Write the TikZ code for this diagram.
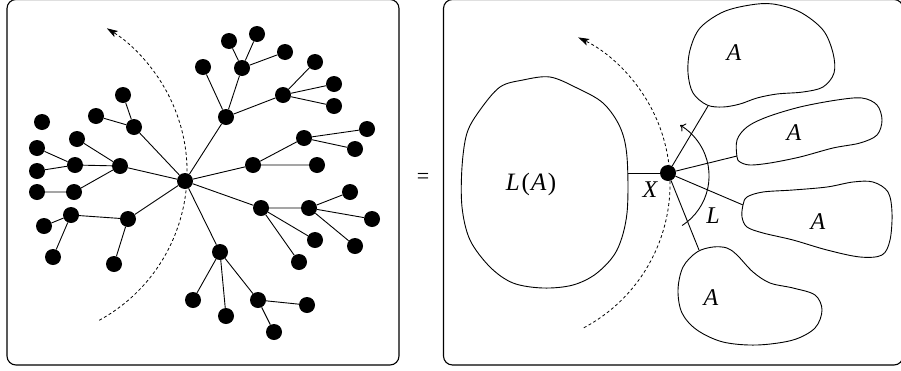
\documentclass[tikz,border=0pt]{standalone}
\usepackage{fontspec}
\setmainfont{Liberation Serif}
\usetikzlibrary{arrows.meta}
\newcommand\lblfont{\fontsize{24}{27}\selectfont\itshape}
\newcommand\bigfont{\fontsize{25}{28}\selectfont\itshape}
\newcommand\eqsfont{\fontsize{22}{25}\selectfont}
\begin{document}
\begin{tikzpicture}[x=1pt,y=-1pt,
  dot/.style={circle,fill=black,inner sep=0pt,minimum size=16pt},
  edge/.style={line width=0.9pt},
  frame/.style={line width=1.1pt,rounded corners=9pt},
  sweep/.style={dash pattern=on 3pt off 2.5pt,line width=0.8pt,-{Stealth[length=11pt,width=7pt,inset=2.5pt]}},
  turn/.style={line width=0.9pt,-{To[length=5pt,width=9pt]}},
  blob/.style={line width=0.9pt},
  lbl/.style={inner sep=0pt},
  eqs/.style={inner sep=0pt}]
\useasboundingbox (0,0) rectangle (901,370);
\begin{scope}
\clip (0,0) rectangle (901,370);
% frames
\draw[frame] (7,-0.5) rectangle (399,365);
\draw[frame] (443.5,-0.5) rectangle (903,365);
\end{scope}
% ---------------- left tree ----------------
\node[dot] (c) at (185,181) {};
\node[dot] (a1) at (134,127) {};
\node[dot] (a1a) at (123,95) {};
\node[dot] (a1b) at (96,116) {};
\node[dot] (a2) at (120,166) {};
\node[dot] (a2a) at (77,139) {};
\node[dot] (a2b) at (75,165) {};
\node[dot] (a2b1) at (37,148) {};
\node[dot] (a2b2) at (37,171) {};
\node[dot] (a2c) at (74,192) {};
\node[dot] (a2c1) at (37,192) {};
\node[dot] (iso) at (42,122) {};
\node[dot] (a3) at (128,219) {};
\node[dot] (a3a) at (71,215) {};
\node[dot] (a3a1) at (44,226) {};
\node[dot] (a3a2) at (53,257) {};
\node[dot] (a3b) at (114,264) {};
\node[dot] (b1) at (226,117) {};
\node[dot] (b1a) at (203,67) {};
\node[dot] (b1b) at (242,68) {};
\node[dot] (b1b1) at (229,41) {};
\node[dot] (b1b2) at (257,34) {};
\node[dot] (b1b3) at (285,52) {};
\node[dot] (b1c) at (283,95) {};
\node[dot] (b1c1) at (315,62) {};
\node[dot] (b1c2) at (334,84) {};
\node[dot] (b1c3) at (334,106) {};
\node[dot] (b2) at (253,165) {};
\node[dot] (b2a) at (317,165) {};
\node[dot] (b2b) at (304,138) {};
\node[dot] (b2b1) at (367,129) {};
\node[dot] (b2b2) at (355,149) {};
\node[dot] (b3) at (261,208) {};
\node[dot] (b3a) at (309,208) {};
\node[dot] (b3a1) at (350,192) {};
\node[dot] (b3a2) at (372,219) {};
\node[dot] (b3a3) at (355,246) {};
\node[dot] (b3b) at (315,240) {};
\node[dot] (b3c) at (299,262) {};
\node[dot] (b4) at (220,252) {};
\node[dot] (b4a) at (193,300) {};
\node[dot] (b4b) at (226,316) {};
\node[dot] (b4c) at (258,300) {};
\node[dot] (b4c1) at (307,305) {};
\node[dot] (b4c2) at (274,332) {};
\draw[edge] (c) -- (a1) (a1) -- (a1a) (a1) -- (a1b);
\draw[edge] (c) -- (a2) (a2) -- (a2a) (a2) -- (a2b) (a2) -- (a2c);
\draw[edge] (a2b) -- (a2b1) (a2b) -- (a2b2) (a2c) -- (a2c1);
\draw[edge] (c) -- (a3) (a3) -- (a3a) (a3) -- (a3b) (a3a) -- (a3a1) (a3a) -- (a3a2);
\draw[edge] (c) -- (b1) (b1) -- (b1a) (b1) -- (b1b) (b1) -- (b1c);
\draw[edge] (b1b) -- (b1b1) (b1b) -- (b1b2) (b1b) -- (b1b3);
\draw[edge] (b1c) -- (b1c1) (b1c) -- (b1c2) (b1c) -- (b1c3);
\draw[edge] (c) -- (b2) (b2) -- (b2a) (b2) -- (b2b) (b2b) -- (b2b1) (b2b) -- (b2b2);
\draw[edge] (c) -- (b3) (b3) -- (b3a) (b3) -- (b3b) (b3) -- (b3c);
\draw[edge] (b3a) -- (b3a1) (b3a) -- (b3a2) (b3a) -- (b3a3);
\draw[edge] (c) -- (b4) (b4) -- (b4a) (b4) -- (b4b) (b4) -- (b4c) (b4c) -- (b4c1) (b4c) -- (b4c2);
% sweep arc, left
\draw[sweep] (99.2,320.3) arc[start angle=61.3, end angle=-58.3, radius=169];
% equals
\node[eqs] (eq) at (423,178) {\eqsfont =};
% ---------------- right panel ----------------
\draw[blob] plot[smooth cycle, tension=0.55] coordinates {
 (550,77) (523,80) (500,87) (480,110) (467,133) (462,167) (462,207) (470,240)
 (490,267) (513,283) (543,288) (573,285) (597,273) (617,250) (627,213) (627,157)
 (620,127) (603,103) (577,88)};
\draw[blob] plot[smooth cycle, tension=0.55] coordinates {
 (750,5) (723,12) (700,28) (690,50) (688,73) (693,93) (707,105) (723,107)
 (740,104) (757,98) (777,94) (803,92) (823,87) (834,73) (833,53) (823,30)
 (800,12) (773,4)};
\draw[blob] plot[smooth cycle, tension=0.55] coordinates {
 (737,157) (737,140) (747,127) (767,117) (800,107) (837,100) (862,98) (877,105)
 (882,120) (877,135) (860,143) (833,148) (800,157) (770,163) (750,165) (740,162)};
\draw[blob] plot[smooth cycle, tension=0.55] coordinates {
 (743,205) (747,197) (763,192) (793,190) (827,187) (853,182) (873,182) (888,192)
 (892,213) (890,240) (882,255) (860,257) (827,250) (793,240) (763,233) (747,227)
 (742,217)};
\draw[blob] plot[smooth cycle, tension=0.55] coordinates {
 (713,247) (697,252) (683,267) (678,290) (682,313) (697,330) (723,342) (757,345)
 (793,340) (815,328) (822,310) (815,295) (793,288) (770,283) (753,272) (737,255)
 (727,248)};
\node[dot] (x) at (668,173) {};
\coordinate (la) at (627.5,173);
\coordinate (e1) at (708,106);
\coordinate (e2) at (737,156);
\coordinate (e3) at (743,205);
\coordinate (e4) at (699,250);
\draw[edge] (la) -- (x);
\draw[edge] (x) -- (e1);
\draw[edge] (x) -- (e2);
\draw[edge] (x) -- (e3);
\draw[edge] (x) -- (e4);
\draw[sweep] (583.8,327.8) arc[start angle=61.9, end angle=-64.1, radius=163];
\draw[turn] (682.1,225.5) arc[start angle=57.1, end angle=-59.5, radius=59];
\node[lbl] (tla) at (531,184) {\bigfont L\kern2pt\upshape(\kern1pt\itshape A\kern1.5pt\upshape)};
\node[lbl] (tx) at (650,190) {\lblfont X};
\node[lbl] (tl) at (713,216) {\lblfont L};
\node[lbl] (t1) at (734,53) {\lblfont A};
\node[lbl] (t2) at (794,133) {\lblfont A};
\node[lbl] (t3) at (818,222) {\lblfont A};
\node[lbl] (t4) at (711,298) {\lblfont A};
\end{tikzpicture}
\end{document}
